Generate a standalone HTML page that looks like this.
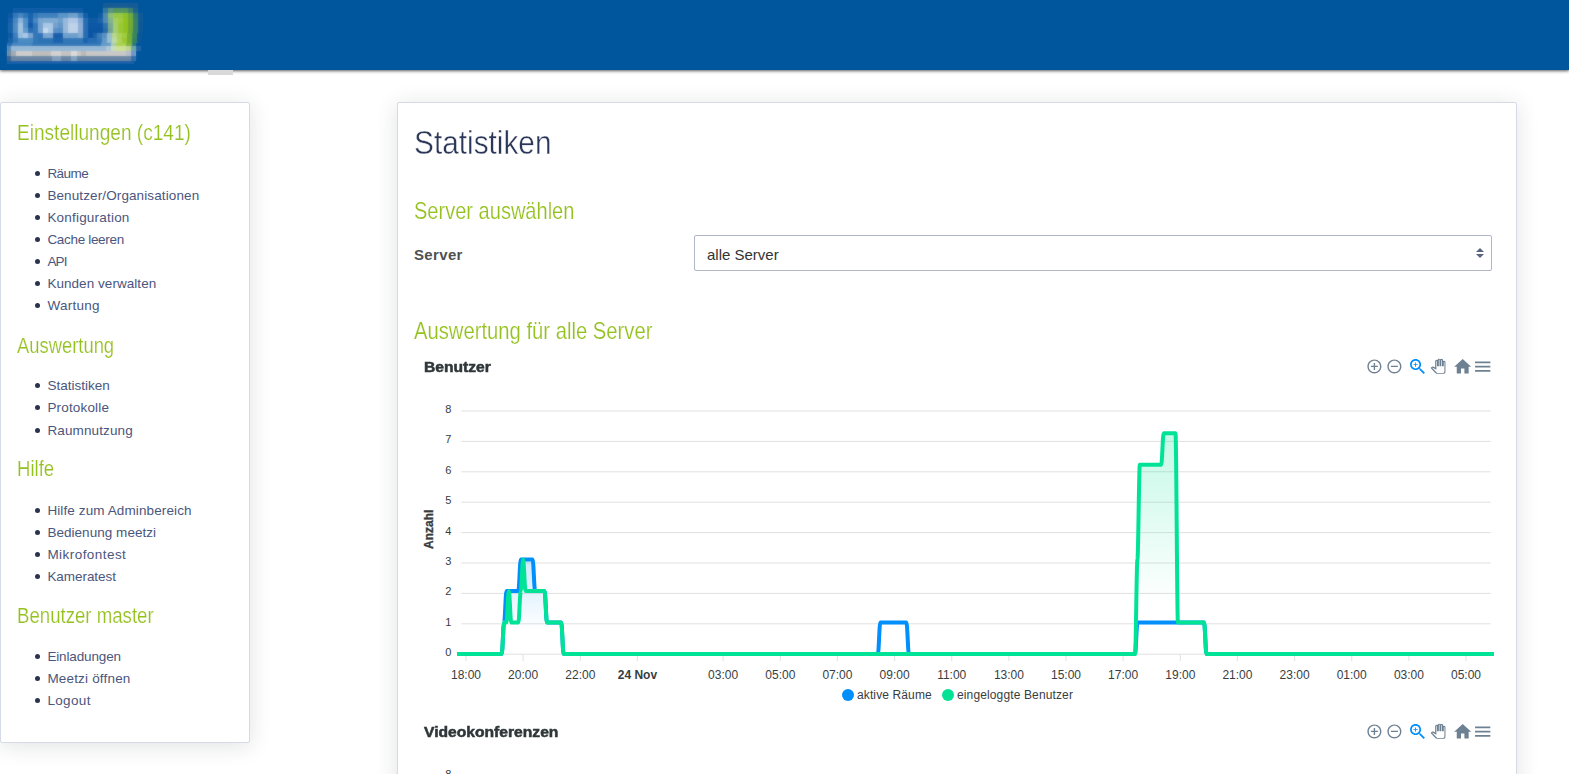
<!DOCTYPE html>
<html lang="de">
<head>
<meta charset="utf-8">
<title>Statistiken</title>
<style>
*{box-sizing:border-box}
html,body{margin:0;padding:0}
body{width:1569px;height:774px;overflow:hidden;background:#fff;font-family:"Liberation Sans",sans-serif;position:relative;color:#3b4668}
.hdr{position:absolute;left:0;top:0;width:1569px;height:70px;background:#00569d;box-shadow:0 1px 3px rgba(32,30,28,.72);z-index:5}
.tab{position:absolute;left:208px;top:70px;width:25px;height:5px;background:#d9d9d9;z-index:6}
.logo{position:absolute;left:0;top:0;width:160px;height:70px;z-index:7;overflow:hidden}
.lg{display:block}
.logo i{position:absolute;display:block}
.card{position:absolute;background:#fff;border:1px solid #d6dae6;border-radius:2px;box-shadow:0 3px 22px rgba(30,35,45,.135)}
.side{left:0;top:102px;width:250px;height:641px}
.main{left:397px;top:102px;width:1120px;height:700px}
.h{position:absolute;white-space:nowrap;color:#95c11f;-webkit-text-stroke:.2px #fff;font-size:22.4px;line-height:26px;transform-origin:0 50%;font-weight:400}
.li{position:absolute;left:46.4px;margin-top:.7px;white-space:nowrap;font-size:13.5px;line-height:22px;color:#4b567d;transform-origin:0 50%}
.li:before{content:"";position:absolute;left:-12.8px;top:8.6px;width:5px;height:5px;border-radius:50%;background:#2a3350}

.h1{position:absolute;left:16px;top:19.9px;-webkit-text-stroke:.45px #fff;font-size:33px;line-height:40px;color:#2b3758;white-space:nowrap;transform-origin:0 50%}
.lbl{position:absolute;left:16px;top:142px;font-size:15px;line-height:20px;font-weight:700;color:#505050;letter-spacing:.35px;white-space:nowrap}
.sel{position:absolute;left:296px;top:132px;width:798px;height:36px;border:1px solid #afb7c7;border-radius:2px;background:#fff;font-size:15px;line-height:37px;padding-left:12px;color:#333;white-space:nowrap}
.sel svg{position:absolute;right:7px;top:12px}
.ct{position:absolute;left:26px;font-size:14px;line-height:18px;font-weight:700;color:#2f373a;white-space:nowrap;transform-origin:0 50%;-webkit-text-stroke:.5px #2f373a}
.chart{position:absolute;left:0;top:0;z-index:3}
.tb{position:absolute;left:1362.8px;height:20px;width:140px;z-index:4}
.tb div{position:absolute;top:0;width:20px;height:20px}
.tb svg{display:block;fill:#6e8192}
.main .h{font-size:24px;line-height:28px}
.ct{font-size:14px}
</style>
</head>
<body>
<div class="hdr"></div>
<div class="tab"></div>
<div class="logo"><svg class="lg" width="160" height="70" viewBox="0 0 160 70" shape-rendering="crispEdges"><defs><filter id="lb" x="-5%" y="-5%" width="110%" height="110%"><feGaussianBlur stdDeviation="1"/></filter></defs><g id="lgG">
<rect x="102.9" y="3.1" width="5.0" height="5.0" fill="#145c96"/>
<rect x="107.9" y="3.1" width="5.0" height="5.0" fill="#145c96"/>
<rect x="112.9" y="3.1" width="5.0" height="5.0" fill="#145c96"/>
<rect x="117.9" y="3.1" width="5.0" height="5.0" fill="#145c96"/>
<rect x="122.9" y="3.1" width="5.0" height="5.0" fill="#145c96"/>
<rect x="127.9" y="3.1" width="5.0" height="5.0" fill="#145c96"/>
<rect x="132.9" y="3.1" width="5.0" height="5.0" fill="#145c96"/>
<rect x="12.9" y="8.1" width="5.0" height="5.0" fill="#0e5ca6"/>
<rect x="17.9" y="8.1" width="5.0" height="5.0" fill="#0e5ca6"/>
<rect x="22.9" y="8.1" width="5.0" height="5.0" fill="#0e5ca6"/>
<rect x="27.9" y="8.1" width="5.0" height="5.0" fill="#0e5ca6"/>
<rect x="32.9" y="8.1" width="5.0" height="5.0" fill="#0e5ca6"/>
<rect x="37.9" y="8.1" width="5.0" height="5.0" fill="#0e5ca6"/>
<rect x="42.9" y="8.1" width="5.0" height="5.0" fill="#0e5ca6"/>
<rect x="47.9" y="8.1" width="5.0" height="5.0" fill="#0e5ca6"/>
<rect x="52.9" y="8.1" width="5.0" height="5.0" fill="#0e5ca6"/>
<rect x="57.9" y="8.1" width="5.0" height="5.0" fill="#0e5ca6"/>
<rect x="62.9" y="8.1" width="5.0" height="5.0" fill="#0e5ca6"/>
<rect x="67.9" y="8.1" width="5.0" height="5.0" fill="#0e5ca6"/>
<rect x="72.9" y="8.1" width="5.0" height="5.0" fill="#0e5ca6"/>
<rect x="77.9" y="8.1" width="5.0" height="5.0" fill="#0e5ca6"/>
<rect x="102.9" y="8.1" width="5.0" height="5.0" fill="#3278a0"/>
<rect x="107.9" y="8.1" width="5.0" height="5.0" fill="#5a9682"/>
<rect x="112.9" y="8.1" width="5.0" height="5.0" fill="#55965f"/>
<rect x="117.9" y="8.1" width="5.0" height="5.0" fill="#55965f"/>
<rect x="122.9" y="8.1" width="5.0" height="5.0" fill="#55965f"/>
<rect x="127.9" y="8.1" width="5.0" height="5.0" fill="#3c826e"/>
<rect x="132.9" y="8.1" width="5.0" height="5.0" fill="#1e648c"/>
<rect x="7.9" y="13.1" width="5.0" height="5.0" fill="#0a58a3"/>
<rect x="12.9" y="13.1" width="5.0" height="5.0" fill="#3278b9"/>
<rect x="17.9" y="13.1" width="5.0" height="5.0" fill="#4687c3"/>
<rect x="22.9" y="13.1" width="5.0" height="5.0" fill="#3278b9"/>
<rect x="27.9" y="13.1" width="5.0" height="5.0" fill="#1964af"/>
<rect x="32.9" y="13.1" width="5.0" height="5.0" fill="#3278b9"/>
<rect x="37.9" y="13.1" width="5.0" height="5.0" fill="#4182be"/>
<rect x="42.9" y="13.1" width="5.0" height="5.0" fill="#4182be"/>
<rect x="47.9" y="13.1" width="5.0" height="5.0" fill="#4182be"/>
<rect x="52.9" y="13.1" width="5.0" height="5.0" fill="#4182be"/>
<rect x="57.9" y="13.1" width="5.0" height="5.0" fill="#5a96c8"/>
<rect x="62.9" y="13.1" width="5.0" height="5.0" fill="#5a96c8"/>
<rect x="67.9" y="13.1" width="5.0" height="5.0" fill="#6ea0cd"/>
<rect x="72.9" y="13.1" width="5.0" height="5.0" fill="#6ea0cd"/>
<rect x="77.9" y="13.1" width="5.0" height="5.0" fill="#4687be"/>
<rect x="82.9" y="13.1" width="5.0" height="5.0" fill="#145faa"/>
<rect x="97.9" y="13.1" width="5.0" height="5.0" fill="#0f5aa5"/>
<rect x="102.9" y="13.1" width="5.0" height="5.0" fill="#508caa"/>
<rect x="107.9" y="13.1" width="5.0" height="5.0" fill="#8cbe78"/>
<rect x="112.9" y="13.1" width="5.0" height="5.0" fill="#96c846"/>
<rect x="117.9" y="13.1" width="5.0" height="5.0" fill="#96c846"/>
<rect x="122.9" y="13.1" width="5.0" height="5.0" fill="#8cc328"/>
<rect x="127.9" y="13.1" width="5.0" height="5.0" fill="#6eaa3c"/>
<rect x="132.9" y="13.1" width="5.0" height="5.0" fill="#327d6e"/>
<rect x="137.9" y="13.1" width="5.0" height="5.0" fill="#0f5a96"/>
<rect x="7.9" y="18.1" width="5.0" height="5.0" fill="#145faa"/>
<rect x="12.9" y="18.1" width="5.0" height="5.0" fill="#4687c3"/>
<rect x="17.9" y="18.1" width="5.0" height="5.0" fill="#8cb4dc"/>
<rect x="22.9" y="18.1" width="5.0" height="5.0" fill="#5091c8"/>
<rect x="27.9" y="18.1" width="5.0" height="5.0" fill="#1e64af"/>
<rect x="32.9" y="18.1" width="5.0" height="5.0" fill="#4687c3"/>
<rect x="37.9" y="18.1" width="5.0" height="5.0" fill="#78a5d2"/>
<rect x="42.9" y="18.1" width="5.0" height="5.0" fill="#7daad2"/>
<rect x="47.9" y="18.1" width="5.0" height="5.0" fill="#7daad2"/>
<rect x="52.9" y="18.1" width="5.0" height="5.0" fill="#7daad2"/>
<rect x="57.9" y="18.1" width="5.0" height="5.0" fill="#6ea0cd"/>
<rect x="62.9" y="18.1" width="5.0" height="5.0" fill="#96b9dc"/>
<rect x="67.9" y="18.1" width="5.0" height="5.0" fill="#afc8e6"/>
<rect x="72.9" y="18.1" width="5.0" height="5.0" fill="#afc8e6"/>
<rect x="77.9" y="18.1" width="5.0" height="5.0" fill="#82aad7"/>
<rect x="82.9" y="18.1" width="5.0" height="5.0" fill="#286eb4"/>
<rect x="87.9" y="18.1" width="5.0" height="5.0" fill="#0f5aa5"/>
<rect x="92.9" y="18.1" width="5.0" height="5.0" fill="#0f5aa5"/>
<rect x="97.9" y="18.1" width="5.0" height="5.0" fill="#1e64aa"/>
<rect x="102.9" y="18.1" width="5.0" height="5.0" fill="#508cb4"/>
<rect x="107.9" y="18.1" width="5.0" height="5.0" fill="#82b48c"/>
<rect x="112.9" y="18.1" width="5.0" height="5.0" fill="#a5cd64"/>
<rect x="117.9" y="18.1" width="5.0" height="5.0" fill="#a0cd3c"/>
<rect x="122.9" y="18.1" width="5.0" height="5.0" fill="#91c323"/>
<rect x="127.9" y="18.1" width="5.0" height="5.0" fill="#73aa32"/>
<rect x="132.9" y="18.1" width="5.0" height="5.0" fill="#378264"/>
<rect x="137.9" y="18.1" width="5.0" height="5.0" fill="#0f5a96"/>
<rect x="7.9" y="23.1" width="5.0" height="5.0" fill="#1964aa"/>
<rect x="12.9" y="23.1" width="5.0" height="5.0" fill="#508cc3"/>
<rect x="17.9" y="23.1" width="5.0" height="5.0" fill="#a0c3e1"/>
<rect x="22.9" y="23.1" width="5.0" height="5.0" fill="#5091c8"/>
<rect x="27.9" y="23.1" width="5.0" height="5.0" fill="#145aaa"/>
<rect x="32.9" y="23.1" width="5.0" height="5.0" fill="#3278b9"/>
<rect x="37.9" y="23.1" width="5.0" height="5.0" fill="#78a5d2"/>
<rect x="42.9" y="23.1" width="5.0" height="5.0" fill="#aac8e6"/>
<rect x="47.9" y="23.1" width="5.0" height="5.0" fill="#aac8e6"/>
<rect x="52.9" y="23.1" width="5.0" height="5.0" fill="#73a0cd"/>
<rect x="57.9" y="23.1" width="5.0" height="5.0" fill="#6496c8"/>
<rect x="62.9" y="23.1" width="5.0" height="5.0" fill="#96b9dc"/>
<rect x="67.9" y="23.1" width="5.0" height="5.0" fill="#bed2e8"/>
<rect x="72.9" y="23.1" width="5.0" height="5.0" fill="#bed2e8"/>
<rect x="77.9" y="23.1" width="5.0" height="5.0" fill="#8cafd7"/>
<rect x="82.9" y="23.1" width="5.0" height="5.0" fill="#286eb4"/>
<rect x="87.9" y="23.1" width="5.0" height="5.0" fill="#0c58a5"/>
<rect x="92.9" y="23.1" width="5.0" height="5.0" fill="#0c58a5"/>
<rect x="97.9" y="23.1" width="5.0" height="5.0" fill="#0f58a5"/>
<rect x="102.9" y="23.1" width="5.0" height="5.0" fill="#3273aa"/>
<rect x="107.9" y="23.1" width="5.0" height="5.0" fill="#78aa96"/>
<rect x="112.9" y="23.1" width="5.0" height="5.0" fill="#a5cd6e"/>
<rect x="117.9" y="23.1" width="5.0" height="5.0" fill="#9bc837"/>
<rect x="122.9" y="23.1" width="5.0" height="5.0" fill="#91c31e"/>
<rect x="127.9" y="23.1" width="5.0" height="5.0" fill="#73aa32"/>
<rect x="132.9" y="23.1" width="5.0" height="5.0" fill="#378264"/>
<rect x="137.9" y="23.1" width="5.0" height="5.0" fill="#0c5896"/>
<rect x="7.9" y="28.1" width="5.0" height="5.0" fill="#1964aa"/>
<rect x="12.9" y="28.1" width="5.0" height="5.0" fill="#508cc3"/>
<rect x="17.9" y="28.1" width="5.0" height="5.0" fill="#a0c3e1"/>
<rect x="22.9" y="28.1" width="5.0" height="5.0" fill="#649bcd"/>
<rect x="27.9" y="28.1" width="5.0" height="5.0" fill="#286eb4"/>
<rect x="32.9" y="28.1" width="5.0" height="5.0" fill="#3278b9"/>
<rect x="37.9" y="28.1" width="5.0" height="5.0" fill="#78a5d2"/>
<rect x="42.9" y="28.1" width="5.0" height="5.0" fill="#c8dcee"/>
<rect x="47.9" y="28.1" width="5.0" height="5.0" fill="#aac8e4"/>
<rect x="52.9" y="28.1" width="5.0" height="5.0" fill="#5a91c8"/>
<rect x="57.9" y="28.1" width="5.0" height="5.0" fill="#558cc3"/>
<rect x="62.9" y="28.1" width="5.0" height="5.0" fill="#96b9dc"/>
<rect x="67.9" y="28.1" width="5.0" height="5.0" fill="#bed2e8"/>
<rect x="72.9" y="28.1" width="5.0" height="5.0" fill="#bed2e8"/>
<rect x="77.9" y="28.1" width="5.0" height="5.0" fill="#8cafd7"/>
<rect x="82.9" y="28.1" width="5.0" height="5.0" fill="#286eb4"/>
<rect x="87.9" y="28.1" width="5.0" height="5.0" fill="#0a55a5"/>
<rect x="92.9" y="28.1" width="5.0" height="5.0" fill="#0a55a5"/>
<rect x="97.9" y="28.1" width="5.0" height="5.0" fill="#0a55a5"/>
<rect x="102.9" y="28.1" width="5.0" height="5.0" fill="#286eaa"/>
<rect x="107.9" y="28.1" width="5.0" height="5.0" fill="#73a596"/>
<rect x="112.9" y="28.1" width="5.0" height="5.0" fill="#a5cd6e"/>
<rect x="117.9" y="28.1" width="5.0" height="5.0" fill="#9bc837"/>
<rect x="122.9" y="28.1" width="5.0" height="5.0" fill="#91c31e"/>
<rect x="127.9" y="28.1" width="5.0" height="5.0" fill="#6ea837"/>
<rect x="132.9" y="28.1" width="5.0" height="5.0" fill="#378264"/>
<rect x="137.9" y="28.1" width="5.0" height="5.0" fill="#0a5896"/>
<rect x="7.9" y="33.1" width="5.0" height="5.0" fill="#0f5aa5"/>
<rect x="12.9" y="33.1" width="5.0" height="5.0" fill="#3c7dbe"/>
<rect x="17.9" y="33.1" width="5.0" height="5.0" fill="#96bee1"/>
<rect x="22.9" y="33.1" width="5.0" height="5.0" fill="#aac8e6"/>
<rect x="27.9" y="33.1" width="5.0" height="5.0" fill="#78a5d2"/>
<rect x="32.9" y="33.1" width="5.0" height="5.0" fill="#3278b9"/>
<rect x="37.9" y="33.1" width="5.0" height="5.0" fill="#3273b9"/>
<rect x="42.9" y="33.1" width="5.0" height="5.0" fill="#78a5d2"/>
<rect x="47.9" y="33.1" width="5.0" height="5.0" fill="#78a5d2"/>
<rect x="52.9" y="33.1" width="5.0" height="5.0" fill="#195faa"/>
<rect x="57.9" y="33.1" width="5.0" height="5.0" fill="#195faa"/>
<rect x="62.9" y="33.1" width="5.0" height="5.0" fill="#6ea0cd"/>
<rect x="67.9" y="33.1" width="5.0" height="5.0" fill="#6ea0cd"/>
<rect x="72.9" y="33.1" width="5.0" height="5.0" fill="#6ea0cd"/>
<rect x="77.9" y="33.1" width="5.0" height="5.0" fill="#82aad2"/>
<rect x="82.9" y="33.1" width="5.0" height="5.0" fill="#286eb4"/>
<rect x="87.9" y="33.1" width="5.0" height="5.0" fill="#0a55a5"/>
<rect x="92.9" y="33.1" width="5.0" height="5.0" fill="#1e64aa"/>
<rect x="96.9" y="33.1" width="5.0" height="5.0" fill="#3c7db9"/>
<rect x="101.9" y="33.1" width="5.0" height="5.0" fill="#5a91c3"/>
<rect x="106.9" y="33.1" width="5.0" height="5.0" fill="#96bec8"/>
<rect x="111.9" y="33.1" width="5.0" height="5.0" fill="#b9d78c"/>
<rect x="116.9" y="33.1" width="5.0" height="5.0" fill="#aad25a"/>
<rect x="121.9" y="33.1" width="5.0" height="5.0" fill="#a0cd3c"/>
<rect x="126.9" y="33.1" width="5.0" height="5.0" fill="#78af32"/>
<rect x="131.9" y="33.1" width="5.0" height="5.0" fill="#3c875a"/>
<rect x="136.9" y="33.1" width="5.0" height="5.0" fill="#0a5896"/>
<rect x="7.9" y="38.1" width="5.0" height="5.0" fill="#1964aa"/>
<rect x="12.9" y="38.1" width="5.0" height="5.0" fill="#3278b9"/>
<rect x="17.9" y="38.1" width="5.0" height="5.0" fill="#4b8cc3"/>
<rect x="22.9" y="38.1" width="5.0" height="5.0" fill="#4b8cc3"/>
<rect x="27.9" y="38.1" width="5.0" height="5.0" fill="#4b8cc3"/>
<rect x="32.9" y="38.1" width="5.0" height="5.0" fill="#3278b9"/>
<rect x="37.9" y="38.1" width="5.0" height="5.0" fill="#2d73b4"/>
<rect x="42.9" y="38.1" width="5.0" height="5.0" fill="#2d73b4"/>
<rect x="47.9" y="38.1" width="5.0" height="5.0" fill="#2d73b4"/>
<rect x="52.9" y="38.1" width="5.0" height="5.0" fill="#1e64af"/>
<rect x="57.9" y="38.1" width="5.0" height="5.0" fill="#1e64af"/>
<rect x="62.9" y="38.1" width="5.0" height="5.0" fill="#3278b9"/>
<rect x="67.9" y="38.1" width="5.0" height="5.0" fill="#3278b9"/>
<rect x="72.9" y="38.1" width="5.0" height="5.0" fill="#3278b9"/>
<rect x="77.9" y="38.1" width="5.0" height="5.0" fill="#3278b9"/>
<rect x="82.9" y="38.1" width="5.0" height="5.0" fill="#1e64af"/>
<rect x="87.9" y="38.1" width="5.0" height="5.0" fill="#286eb4"/>
<rect x="92.9" y="38.1" width="5.0" height="5.0" fill="#286eb4"/>
<rect x="96.9" y="38.1" width="5.0" height="5.0" fill="#3278b9"/>
<rect x="101.9" y="38.1" width="5.0" height="5.0" fill="#649bc8"/>
<rect x="106.9" y="38.1" width="5.0" height="5.0" fill="#96bed2"/>
<rect x="111.9" y="38.1" width="5.0" height="5.0" fill="#bedca0"/>
<rect x="116.9" y="38.1" width="5.0" height="5.0" fill="#afd45a"/>
<rect x="121.9" y="38.1" width="5.0" height="5.0" fill="#9bc832"/>
<rect x="126.9" y="38.1" width="5.0" height="5.0" fill="#78af32"/>
<rect x="131.9" y="38.1" width="5.0" height="5.0" fill="#328264"/>
<rect x="136.9" y="38.1" width="5.0" height="5.0" fill="#08569b"/>
<rect x="6.9" y="43.2" width="5.1" height="2.7" fill="#286eb4"/>
<rect x="12.0" y="43.2" width="20.1" height="2.7" fill="#4687c3"/>
<rect x="32.0" y="43.2" width="69.4" height="2.7" fill="#3278b9"/>
<rect x="101.3" y="43.2" width="10.1" height="2.7" fill="#649bc8"/>
<rect x="111.4" y="43.2" width="4.8" height="2.7" fill="#aacdb4"/>
<rect x="116.2" y="43.2" width="10.1" height="2.7" fill="#aad250"/>
<rect x="126.2" y="43.2" width="5.3" height="2.7" fill="#82b43c"/>
<rect x="131.5" y="43.2" width="4.8" height="2.7" fill="#287878"/>
<rect x="6.7" y="45.9" width="4.4" height="5.3" fill="#508cbe"/>
<rect x="11.0" y="45.9" width="95.2" height="5.3" fill="#96b9d7"/>
<rect x="106.1" y="45.9" width="5.3" height="5.3" fill="#afc8d7"/>
<rect x="111.4" y="45.9" width="4.8" height="5.3" fill="#c8debe"/>
<rect x="116.2" y="45.9" width="10.1" height="5.3" fill="#cde196"/>
<rect x="126.2" y="45.9" width="4.8" height="5.3" fill="#bed78c"/>
<rect x="131.0" y="45.9" width="4.8" height="5.3" fill="#6ea5aa"/>
<rect x="135.8" y="45.9" width="4.8" height="5.3" fill="#1e64a5"/>
<rect x="6.7" y="51.1" width="4.4" height="4.8" fill="#6e8ca5"/>
<rect x="11.0" y="51.1" width="5.3" height="4.8" fill="#a0aab4"/>
<rect x="16.3" y="51.1" width="15.3" height="4.8" fill="#cdcdcd"/>
<rect x="31.5" y="51.1" width="19.2" height="4.8" fill="#bebebe"/>
<rect x="50.7" y="51.1" width="10.6" height="4.8" fill="#d2d2d2"/>
<rect x="61.2" y="51.1" width="9.6" height="4.8" fill="#c3c3c3"/>
<rect x="70.7" y="51.1" width="5.8" height="4.8" fill="#dcdcdc"/>
<rect x="76.5" y="51.1" width="4.8" height="4.8" fill="#c8c8c8"/>
<rect x="81.3" y="51.1" width="4.8" height="4.8" fill="#b9b9b9"/>
<rect x="86.0" y="51.1" width="40.2" height="4.8" fill="#c8c8c8"/>
<rect x="126.2" y="51.1" width="4.8" height="4.8" fill="#b9becd"/>
<rect x="131.0" y="51.1" width="4.8" height="4.8" fill="#6e96c8"/>
<rect x="6.7" y="55.9" width="4.4" height="4.9" fill="#3c6496"/>
<rect x="11.0" y="55.9" width="40.7" height="4.9" fill="#6987a5"/>
<rect x="51.6" y="55.9" width="9.6" height="4.9" fill="#82a0be"/>
<rect x="61.2" y="55.9" width="9.6" height="4.9" fill="#6987a5"/>
<rect x="70.7" y="55.9" width="5.8" height="4.9" fill="#82a5c3"/>
<rect x="76.5" y="55.9" width="54.5" height="4.9" fill="#6987a5"/>
<rect x="131.0" y="55.9" width="4.8" height="4.9" fill="#326eaf"/>
<rect x="6.7" y="60.7" width="127.2" height="2.8" fill="#145fa8"/>
</g><use href="#lgG" filter="url(#lb)" opacity=".55"/></svg></div>

<div class="card side">
<div class="h" id="h1" style="transform:scaleX(0.852);left:16px;top:17px">Einstellungen (c141)</div>
<div class="li" style="top:59px;letter-spacing:-0.56px">Räume</div>
<div class="li" style="top:81px;letter-spacing:0.11px">Benutzer/Organisationen</div>
<div class="li" style="top:103px;letter-spacing:0.20px">Konfiguration</div>
<div class="li" style="top:125px;letter-spacing:-0.32px">Cache leeren</div>
<div class="li" style="top:147px;letter-spacing:-0.88px">API</div>
<div class="li" style="top:169px;letter-spacing:0.05px">Kunden verwalten</div>
<div class="li" style="top:191px;letter-spacing:0.25px">Wartung</div>
<div class="h" id="h2" style="transform:scaleX(0.821);left:16px;top:230px">Auswertung</div>
<div class="li" style="top:271px;letter-spacing:0.01px">Statistiken</div>
<div class="li" style="top:293px;letter-spacing:0.17px">Protokolle</div>
<div class="li" style="top:316px;letter-spacing:0.12px">Raumnutzung</div>
<div class="h" id="h3" style="transform:scaleX(0.83);left:15.6px;top:353px">Hilfe</div>
<div class="li" style="top:396px;letter-spacing:0.11px">Hilfe zum Adminbereich</div>
<div class="li" style="top:418px;letter-spacing:0.04px">Bedienung meetzi</div>
<div class="li" style="top:440px;letter-spacing:0.45px">Mikrofontest</div>
<div class="li" style="top:462px;letter-spacing:-0.05px">Kameratest</div>
<div class="h" id="h4" style="transform:scaleX(0.832);left:16px;top:499.5px">Benutzer master</div>
<div class="li" style="top:542px;letter-spacing:-0.14px">Einladungen</div>
<div class="li" style="top:564px;letter-spacing:0.18px">Meetzi öffnen</div>
<div class="li" style="top:586px;letter-spacing:0.34px">Logout</div>
</div>

<div class="card main" id="main">
<div class="h1" id="m1" style="transform:scaleX(0.903)">Statistiken</div>
<div class="h" id="m2" style="transform:scaleX(0.835);left:15.8px;top:93.5px">Server auswählen</div>
<div class="lbl">Server</div>
<div class="sel">alle Server<svg width="8" height="10" viewBox="0 0 8 10"><path d="M4 0L8 4H0zM4 10L0 6H8z" fill="#59647f"/></svg></div>
<div class="h" id="m3" style="transform:scaleX(0.843);left:16px;top:213.5px">Auswertung für alle Server</div>
<div class="ct" id="c1" style="transform:scaleX(1.117);top:255.3px">Benutzer</div>
<div class="ct" id="c2" style="transform:scaleX(1.117);top:620.3px">Videokonferenzen</div>
</div>
<svg class="chart" width="1569" height="774" viewBox="0 0 1569 774" font-family="Liberation Sans, sans-serif">
<defs><clipPath id="clip"><rect x="457" y="380" width="1037" height="280"/></clipPath>
<linearGradient id="gb" gradientUnits="userSpaceOnUse" x1="0" y1="559.4" x2="0" y2="654"><stop offset="0" stop-color="#008ffb" stop-opacity=".2"/><stop offset=".75" stop-color="#008ffb" stop-opacity="0"/></linearGradient>
<linearGradient id="gg" gradientUnits="userSpaceOnUse" x1="0" y1="433.3" x2="0" y2="654"><stop offset="0" stop-color="#00e396" stop-opacity=".23"/><stop offset=".78" stop-color="#00e396" stop-opacity="0"/></linearGradient>
</defs>
<g transform="translate(0,0)">
<line x1="461.3" x2="1490.6" y1="411.0" y2="411.0" stroke="#e0e0e0" stroke-width="1"/>
<line x1="461.3" x2="1490.6" y1="441.4" y2="441.4" stroke="#e0e0e0" stroke-width="1"/>
<line x1="461.3" x2="1490.6" y1="471.8" y2="471.8" stroke="#e0e0e0" stroke-width="1"/>
<line x1="461.3" x2="1490.6" y1="502.2" y2="502.2" stroke="#e0e0e0" stroke-width="1"/>
<line x1="461.3" x2="1490.6" y1="532.6" y2="532.6" stroke="#e0e0e0" stroke-width="1"/>
<line x1="461.3" x2="1490.6" y1="563.0" y2="563.0" stroke="#e0e0e0" stroke-width="1"/>
<line x1="461.3" x2="1490.6" y1="593.4" y2="593.4" stroke="#e0e0e0" stroke-width="1"/>
<line x1="461.3" x2="1490.6" y1="623.8" y2="623.8" stroke="#e0e0e0" stroke-width="1"/>
<line x1="461.3" x2="1490.6" y1="654.2" y2="654.2" stroke="#e0e0e0" stroke-width="1"/>
<line x1="466.0" x2="466.0" y1="655" y2="661" stroke="#e0e0e0"/>
<text x="466.0" y="678.6" text-anchor="middle" font-size="12" fill="#373d3f">18:00</text>
<line x1="523.1" x2="523.1" y1="655" y2="661" stroke="#e0e0e0"/>
<text x="523.1" y="678.6" text-anchor="middle" font-size="12" fill="#373d3f">20:00</text>
<line x1="580.3" x2="580.3" y1="655" y2="661" stroke="#e0e0e0"/>
<text x="580.3" y="678.6" text-anchor="middle" font-size="12" fill="#373d3f">22:00</text>
<line x1="637.4" x2="637.4" y1="655" y2="661" stroke="#e0e0e0"/>
<text x="637.4" y="678.6" text-anchor="middle" font-size="12" font-weight="700" fill="#373d3f">24 Nov</text>
<line x1="723.1" x2="723.1" y1="655" y2="661" stroke="#e0e0e0"/>
<text x="723.1" y="678.6" text-anchor="middle" font-size="12" fill="#373d3f">03:00</text>
<line x1="780.3" x2="780.3" y1="655" y2="661" stroke="#e0e0e0"/>
<text x="780.3" y="678.6" text-anchor="middle" font-size="12" fill="#373d3f">05:00</text>
<line x1="837.4" x2="837.4" y1="655" y2="661" stroke="#e0e0e0"/>
<text x="837.4" y="678.6" text-anchor="middle" font-size="12" fill="#373d3f">07:00</text>
<line x1="894.6" x2="894.6" y1="655" y2="661" stroke="#e0e0e0"/>
<text x="894.6" y="678.6" text-anchor="middle" font-size="12" fill="#373d3f">09:00</text>
<line x1="951.7" x2="951.7" y1="655" y2="661" stroke="#e0e0e0"/>
<text x="951.7" y="678.6" text-anchor="middle" font-size="12" fill="#373d3f">11:00</text>
<line x1="1008.9" x2="1008.9" y1="655" y2="661" stroke="#e0e0e0"/>
<text x="1008.9" y="678.6" text-anchor="middle" font-size="12" fill="#373d3f">13:00</text>
<line x1="1066.0" x2="1066.0" y1="655" y2="661" stroke="#e0e0e0"/>
<text x="1066.0" y="678.6" text-anchor="middle" font-size="12" fill="#373d3f">15:00</text>
<line x1="1123.1" x2="1123.1" y1="655" y2="661" stroke="#e0e0e0"/>
<text x="1123.1" y="678.6" text-anchor="middle" font-size="12" fill="#373d3f">17:00</text>
<line x1="1180.3" x2="1180.3" y1="655" y2="661" stroke="#e0e0e0"/>
<text x="1180.3" y="678.6" text-anchor="middle" font-size="12" fill="#373d3f">19:00</text>
<line x1="1237.4" x2="1237.4" y1="655" y2="661" stroke="#e0e0e0"/>
<text x="1237.4" y="678.6" text-anchor="middle" font-size="12" fill="#373d3f">21:00</text>
<line x1="1294.6" x2="1294.6" y1="655" y2="661" stroke="#e0e0e0"/>
<text x="1294.6" y="678.6" text-anchor="middle" font-size="12" fill="#373d3f">23:00</text>
<line x1="1351.7" x2="1351.7" y1="655" y2="661" stroke="#e0e0e0"/>
<text x="1351.7" y="678.6" text-anchor="middle" font-size="12" fill="#373d3f">01:00</text>
<line x1="1408.9" x2="1408.9" y1="655" y2="661" stroke="#e0e0e0"/>
<text x="1408.9" y="678.6" text-anchor="middle" font-size="12" fill="#373d3f">03:00</text>
<line x1="1466.0" x2="1466.0" y1="655" y2="661" stroke="#e0e0e0"/>
<text x="1466.0" y="678.6" text-anchor="middle" font-size="12" fill="#373d3f">05:00</text>
<text x="451.3" y="412.9" text-anchor="end" font-size="11" fill="#373d3f">8</text>
<text x="451.3" y="443.3" text-anchor="end" font-size="11" fill="#373d3f">7</text>
<text x="451.3" y="473.7" text-anchor="end" font-size="11" fill="#373d3f">6</text>
<text x="451.3" y="504.1" text-anchor="end" font-size="11" fill="#373d3f">5</text>
<text x="451.3" y="534.5" text-anchor="end" font-size="11" fill="#373d3f">4</text>
<text x="451.3" y="564.9" text-anchor="end" font-size="11" fill="#373d3f">3</text>
<text x="451.3" y="595.3" text-anchor="end" font-size="11" fill="#373d3f">2</text>
<text x="451.3" y="625.7" text-anchor="end" font-size="11" fill="#373d3f">1</text>
<text x="451.3" y="656.1" text-anchor="end" font-size="11" fill="#373d3f">0</text>
<text transform="translate(433.2,529.3) rotate(-90)" text-anchor="middle" font-size="12" font-weight="700" fill="#373d3f" stroke="#373d3f" stroke-width=".35">Anzahl</text>
<g clip-path="url(#clip)">
<path d="M454.10 654.00H501.71C502.55 654.00 503.26 622.47 504.10 622.47C504.93 622.47 505.64 590.94 506.48 590.94H518.38C519.21 590.94 519.93 559.41 520.76 559.41H532.67C533.50 559.41 534.21 590.94 535.05 590.94H544.57C545.40 590.94 546.12 622.47 546.95 622.47H561.24C562.07 622.47 562.79 654.00 563.62 654.00H877.91C878.74 654.00 879.45 622.47 880.29 622.47H906.48C907.31 622.47 908.02 654.00 908.86 654.00H1135.05C1135.88 654.00 1136.60 622.47 1137.43 622.47H1204.10C1204.93 622.47 1205.64 654.00 1206.48 654.00H1501.72V654.00 H454.10 Z" fill="url(#gb)" stroke="none"/>
<path d="M454.10 654.00H501.71C502.55 654.00 503.26 622.47 504.10 622.47C504.93 622.47 505.64 590.94 506.48 590.94H518.38C519.21 590.94 519.93 559.41 520.76 559.41H532.67C533.50 559.41 534.21 590.94 535.05 590.94H544.57C545.40 590.94 546.12 622.47 546.95 622.47H561.24C562.07 622.47 562.79 654.00 563.62 654.00H877.91C878.74 654.00 879.45 622.47 880.29 622.47H906.48C907.31 622.47 908.02 654.00 908.86 654.00H1135.05C1135.88 654.00 1136.60 622.47 1137.43 622.47H1204.10C1204.93 622.47 1205.64 654.00 1206.48 654.00H1501.72" fill="none" stroke="#008ffb" stroke-width="4" stroke-linecap="butt" stroke-linejoin="round"/>
<path d="M454.10 654.00H501.71C502.55 654.00 503.26 622.47 504.10 622.47H506.48C507.31 622.47 508.02 590.94 508.86 590.94C509.69 590.94 510.40 622.47 511.24 622.47H518.38C519.21 622.47 519.93 590.94 520.76 590.94C521.60 590.94 522.31 559.41 523.14 559.41C523.98 559.41 524.69 590.94 525.52 590.94H544.57C545.40 590.94 546.12 622.47 546.95 622.47H561.24C562.07 622.47 562.79 654.00 563.62 654.00H1135.05C1135.88 654.00 1136.60 559.41 1137.43 559.41C1138.26 559.41 1138.98 464.82 1139.81 464.82H1161.24C1162.07 464.82 1162.79 433.29 1163.62 433.29H1175.53C1176.36 433.29 1177.07 622.47 1177.91 622.47H1204.10C1204.93 622.47 1205.64 654.00 1206.48 654.00H1501.72V654.00 H454.10 Z" fill="url(#gg)" stroke="none"/>
<path d="M454.10 654.00H501.71C502.55 654.00 503.26 622.47 504.10 622.47H506.48C507.31 622.47 508.02 590.94 508.86 590.94C509.69 590.94 510.40 622.47 511.24 622.47H518.38C519.21 622.47 519.93 590.94 520.76 590.94C521.60 590.94 522.31 559.41 523.14 559.41C523.98 559.41 524.69 590.94 525.52 590.94H544.57C545.40 590.94 546.12 622.47 546.95 622.47H561.24C562.07 622.47 562.79 654.00 563.62 654.00H1135.05C1135.88 654.00 1136.60 559.41 1137.43 559.41C1138.26 559.41 1138.98 464.82 1139.81 464.82H1161.24C1162.07 464.82 1162.79 433.29 1163.62 433.29H1175.53C1176.36 433.29 1177.07 622.47 1177.91 622.47H1204.10C1204.93 622.47 1205.64 654.00 1206.48 654.00H1501.72" fill="none" stroke="#00e396" stroke-width="4" stroke-linecap="butt" stroke-linejoin="round"/>
</g>
<circle cx="848" cy="695" r="6" fill="#008ffb"/><text x="857" y="699" font-size="12" letter-spacing=".12" fill="#373d3f">aktive Räume</text>
<circle cx="948" cy="695" r="6" fill="#00e396"/><text x="957" y="699" font-size="12" letter-spacing=".13" fill="#373d3f">eingeloggte Benutzer</text>
</g>
<text x="451.3" y="777.9" text-anchor="end" font-size="11" fill="#373d3f">8</text>
</svg>
<div class="tb" style="top:354.9px">
<div style="left:0;transform:scale(.7)"><svg width="24" height="24" viewBox="0 0 24 24"><path d="M13 7h-2v4H7v2h4v4h2v-4h4v-2h-4V7zm-1-5C6.48 2 2 6.48 2 12s4.48 10 10 10 10-4.48 10-10S17.52 2 12 2zm0 18c-4.41 0-8-3.59-8-8s3.59-8 8-8 8 3.59 8 8-3.590 8-8 8z"/></svg></div>
<div style="left:20px;transform:scale(.7)"><svg width="24" height="24" viewBox="0 0 24 24"><path d="M7 11v2h10v-2H7zm5-9C6.48 2 2 6.48 2 12s4.48 10 10 10 10-4.48 10-10S17.52 2 12 2zm0 18c-4.41 0-8-3.59-8-8s3.59-8 8-8 8 3.59 8 8-3.590 8-8 8z"/></svg></div>
<div style="left:43px;transform:scale(.85)"><svg width="24" height="24" viewBox="0 0 24 24" style="fill:#008ffb"><path d="M15.5 14h-.79l-.28-.27C15.41 12.59 16 11.11 16 9.5 16 5.91 13.09 3 9.5 3S3 5.91 3 9.5 5.91 16 9.500 16c1.610 0 3.090-.59 4.230-1.570l.27.28v.79l5 4.990L20.490 19l-4.990-5zm-6 0C7.010 14 5 11.990 5 9.500S7.010 5 9.500 5 14 7.010 14 9.500 11.990 14 9.500 14z"/><path d="M12 10h-2v2H9v-2H7V9h2V7h1v2h2v1z"/></svg></div>
<div style="left:64px;transform:scale(.62)"><svg width="24" height="24" viewBox="0 0 24 24" style="fill:#fff;stroke:#6e8192;stroke-width:2"><path d="M23 5.5V20c0 2.200-1.800 4-4 4h-7.300c-1.080 0-2.100-.43-2.850-1.190L1 14.830s1.260-1.230 1.300-1.250c.22-.19.490-.29.790-.29.220 0 .42.060.6.160.04.010 4.310 2.460 4.310 2.460V4c0-.83.670-1.500 1.500-1.500S11 3.170 11 4v7h1V1.500c0-.83.670-1.500 1.500-1.500S15 .67 15 1.500V11h1V2.500c0-.83.670-1.500 1.500-1.500s1.500.67 1.500 1.500V11h1V5.500c0-.83.670-1.500 1.500-1.500s1.500.67 1.500 1.500z"/></svg></div>
<div style="left:88px;transform:scale(.85)"><svg width="24" height="24" viewBox="0 0 24 24"><path d="M10 20v-6h4v6h5v-8h3L12 3 2 12h3v8z"/></svg></div>
<div style="left:108px;transform:scale(.85)"><svg width="24" height="24" viewBox="0 0 24 24"><path d="M3 18h18v-2H3v2zm0-5h18v-2H3v2zm0-7v2h18V6H3z"/></svg></div>
</div>
<div class="tb" style="top:719.9px">
<div style="left:0;transform:scale(.7)"><svg width="24" height="24" viewBox="0 0 24 24"><path d="M13 7h-2v4H7v2h4v4h2v-4h4v-2h-4V7zm-1-5C6.48 2 2 6.48 2 12s4.48 10 10 10 10-4.48 10-10S17.52 2 12 2zm0 18c-4.41 0-8-3.59-8-8s3.59-8 8-8 8 3.59 8 8-3.590 8-8 8z"/></svg></div>
<div style="left:20px;transform:scale(.7)"><svg width="24" height="24" viewBox="0 0 24 24"><path d="M7 11v2h10v-2H7zm5-9C6.48 2 2 6.48 2 12s4.48 10 10 10 10-4.48 10-10S17.52 2 12 2zm0 18c-4.41 0-8-3.59-8-8s3.59-8 8-8 8 3.59 8 8-3.590 8-8 8z"/></svg></div>
<div style="left:43px;transform:scale(.85)"><svg width="24" height="24" viewBox="0 0 24 24" style="fill:#008ffb"><path d="M15.5 14h-.79l-.28-.27C15.41 12.59 16 11.11 16 9.5 16 5.91 13.09 3 9.5 3S3 5.91 3 9.5 5.91 16 9.500 16c1.610 0 3.090-.59 4.230-1.570l.27.28v.79l5 4.990L20.490 19l-4.990-5zm-6 0C7.010 14 5 11.990 5 9.500S7.010 5 9.500 5 14 7.010 14 9.500 11.990 14 9.500 14z"/><path d="M12 10h-2v2H9v-2H7V9h2V7h1v2h2v1z"/></svg></div>
<div style="left:64px;transform:scale(.62)"><svg width="24" height="24" viewBox="0 0 24 24" style="fill:#fff;stroke:#6e8192;stroke-width:2"><path d="M23 5.5V20c0 2.200-1.800 4-4 4h-7.300c-1.080 0-2.100-.43-2.850-1.190L1 14.830s1.260-1.230 1.300-1.250c.22-.19.490-.29.790-.29.220 0 .42.060.6.160.04.010 4.310 2.460 4.310 2.460V4c0-.83.670-1.500 1.500-1.500S11 3.170 11 4v7h1V1.500c0-.83.670-1.500 1.500-1.500S15 .67 15 1.500V11h1V2.500c0-.83.670-1.500 1.500-1.500s1.500.67 1.500 1.500V11h1V5.500c0-.83.670-1.500 1.500-1.500s1.500.67 1.500 1.500z"/></svg></div>
<div style="left:88px;transform:scale(.85)"><svg width="24" height="24" viewBox="0 0 24 24"><path d="M10 20v-6h4v6h5v-8h3L12 3 2 12h3v8z"/></svg></div>
<div style="left:108px;transform:scale(.85)"><svg width="24" height="24" viewBox="0 0 24 24"><path d="M3 18h18v-2H3v2zm0-5h18v-2H3v2zm0-7v2h18V6H3z"/></svg></div>
</div>
</body>
</html>
